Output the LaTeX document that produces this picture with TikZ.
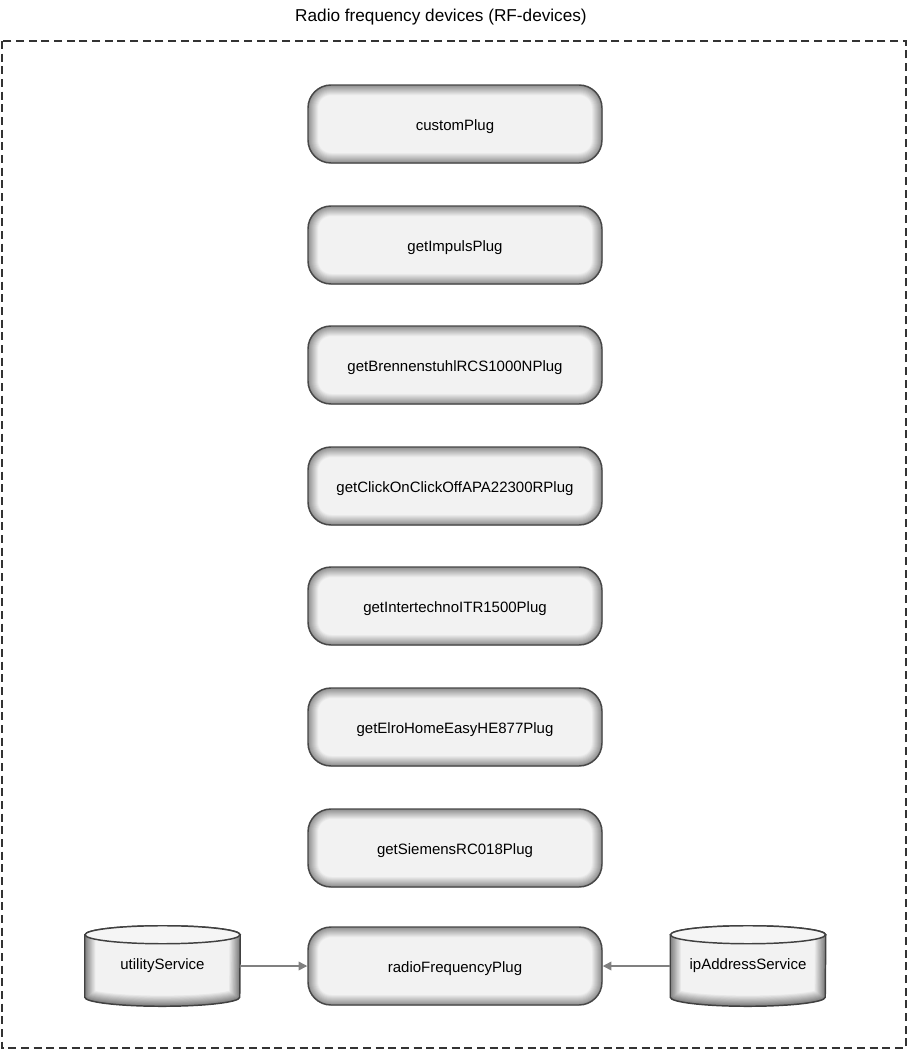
\documentclass[tikz,border=0pt]{standalone}
\usepackage{fontspec}
\setmainfont{Liberation Sans}
\usetikzlibrary{arrows.meta,calc,backgrounds}
\newcommand\drawcyl[1]{%
  \begin{scope}
    \clip ($(#1.north west)+(0,9)$) -- ($(#1.south west)+(0,-9)$) arc[start angle=180,end angle=360,x radius=58.125pt,y radius=6.75pt] -- ($(#1.north east)+(0,9)$) arc[start angle=0,end angle=180,x radius=58.125pt,y radius=6.75pt] -- cycle;
    \fill[black!5] ($(#1.north west)+(0,-5)$) rectangle ($(#1.south east)+(0,5)$);
    \foreach \i in {1,...,10}{
      \pgfmathsetmacro\lw{(11-\i)*1.6}
      \pgfmathsetmacro\sh{5+\i*4.5}
      \draw[line width=\lw pt, draw=black!\sh] ($(#1.north west)+(0,9)$) -- ($(#1.south west)+(0,-9)$) arc[start angle=180,end angle=360,x radius=58.125pt,y radius=6.75pt] -- ($(#1.north east)+(0,9)$);
    }
  \end{scope}
  \draw[cylline] ($(#1.north west)+(0,9)$) -- ($(#1.south west)+(0,-9)$) arc[start angle=180,end angle=360,x radius=58.125pt,y radius=6.75pt] -- ($(#1.north east)+(0,9)$) arc[start angle=0,end angle=180,x radius=58.125pt,y radius=6.75pt] -- cycle;
  \draw[cylline, fill=black!4] ($(#1.north)+(0,9)$) ellipse[x radius=58.125pt,y radius=6.75pt];
}
\newcommand\lowr[1]{\raisebox{-1.6pt}[\height][\depth]{#1}}
\begin{document}
\begin{tikzpicture}[x=0.75pt,y=-0.75pt,
  plugbox/.style={rectangle, rounded corners=17.25pt, minimum width=220.5pt, minimum height=58.5pt,
    fill=black!5, draw=black!72, line width=1.1pt, font=\fontsize{11.25}{13}\selectfont,
    path picture={
      \foreach \i in {1,...,10}{
        \pgfmathsetmacro\lw{(11-\i)*1.5}
        \pgfmathsetmacro\sh{5+\i*3.8}
        \draw[line width=\lw pt, draw=black!\sh, rounded corners=17.25pt]
          (path picture bounding box.south west) rectangle (path picture bounding box.north east);
      }}},
  cylnode/.style={rectangle, minimum width=116.25pt, minimum height=60pt, inner sep=0pt,
    font=\fontsize{11.25}{13}\selectfont},
  cylline/.style={draw=black!75, line width=1.1pt},
  conn/.style={draw=black!50, line width=1.1pt, -{Triangle[length=6.5pt,width=6.5pt]}},
  frame/.style={draw=black!80, line width=1.1pt, dash pattern=on 6pt off 3.5pt}
]
\useasboundingbox (0,0) rectangle (910,1051);
\node[font=\fontsize{12.9}{15}\selectfont] (title) at (441,17) {Radio frequency devices (RF-devices)};
\draw[frame] (2,41) rectangle (906,1048);

\node[plugbox] (p1) at (455,124) {\lowr{customPlug}};
\node[plugbox] (p2) at (455,245) {\lowr{getImpulsPlug}};
\node[plugbox] (p3) at (455,365) {\lowr{getBrennenstuhlRCS1000NPlug}};
\node[plugbox] (p4) at (455,486) {\lowr{getClickOnClickOffAPA22300RPlug}};
\node[plugbox] (p5) at (455,606) {\lowr{getIntertechnoITR1500Plug}};
\node[plugbox] (p6) at (455,727) {\lowr{getElroHomeEasyHE877Plug}};
\node[plugbox] (p7) at (455,848) {\lowr{getSiemensRC018Plug}};
\node[plugbox] (rf) at (455,966) {\lowr{radioFrequencyPlug}};

\node[cylnode] (util) at (162.5,966) {utilityService};
\node[cylnode] (ip) at (748,966) {ipAddressService};
\begin{pgfonlayer}{background}
  \drawcyl{util}
  \drawcyl{ip}
\end{pgfonlayer}

\draw[conn] (util.east) -- (rf.west);
\draw[conn] (ip.west) -- (rf.east);
\end{tikzpicture}
\end{document}
